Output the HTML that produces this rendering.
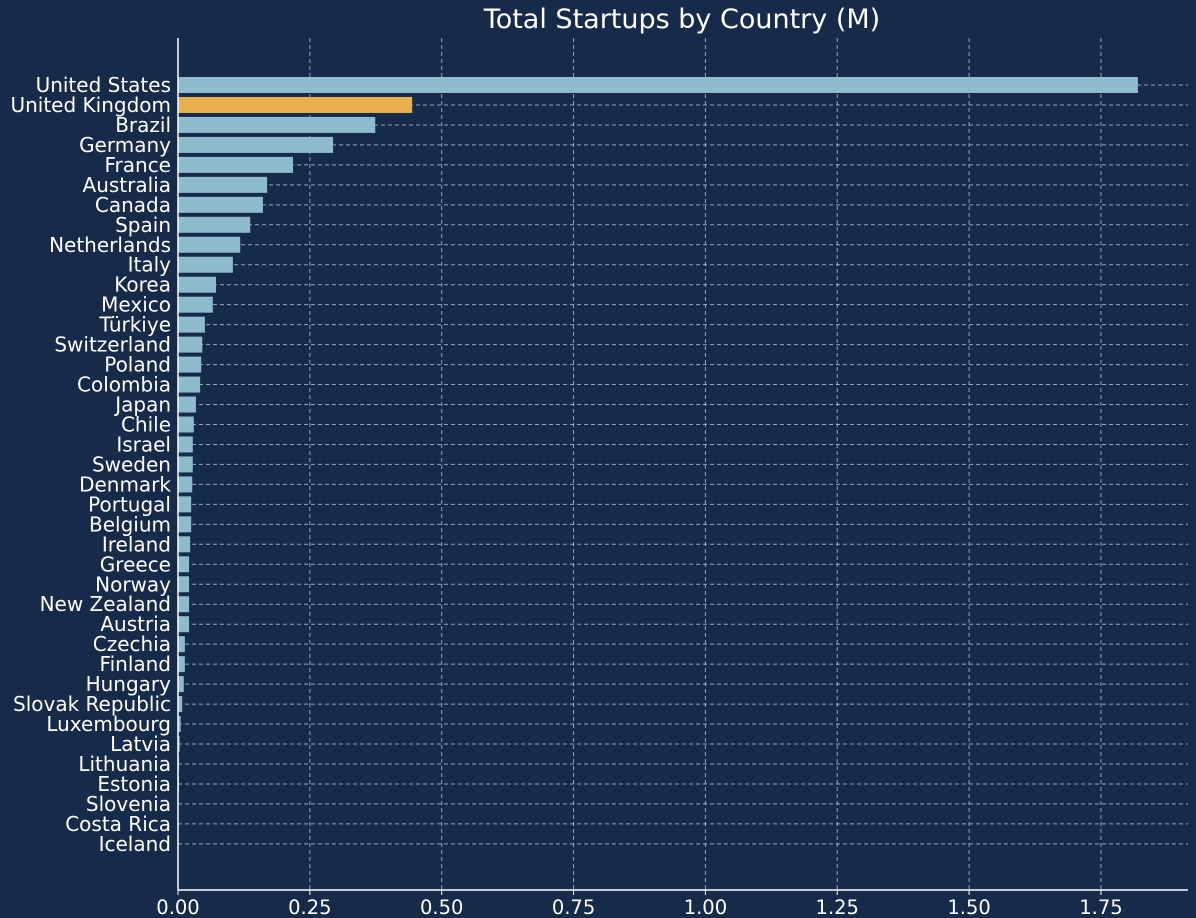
<!DOCTYPE html>
<html><head><meta charset="utf-8">
<style>
html,body{margin:0;padding:0;background:#162a4a;}
svg{display:block;font-family:"DejaVu Sans","Liberation Sans",sans-serif;}
</style></head>
<body>
<svg id="chart" width="1196" height="918" xmlns="http://www.w3.org/2000/svg">
<rect width="1196" height="918" fill="#162a4a"/>
<text x="682" y="28" fill="#ffffff" font-size="27" text-anchor="middle">Total Startups by Country (M)</text>
<g id="grid"></g><g id="bars"></g><g id="ylabels"></g><g id="xticks"></g>
<line x1="178" y1="38" x2="178" y2="890" stroke="#ffffff" stroke-width="1.5"/>
<line x1="178" y1="890" x2="1188" y2="890" stroke="#ffffff" stroke-width="1.5"/>
</svg>
<script>
const countries = ["United States","United Kingdom","Brazil","Germany","France","Australia","Canada","Spain","Netherlands","Italy","Korea","Mexico","Türkiye","Switzerland","Poland","Colombia","Japan","Chile","Israel","Sweden","Denmark","Portugal","Belgium","Ireland","Greece","Norway","New Zealand","Austria","Czechia","Finland","Hungary","Slovak Republic","Luxembourg","Latvia","Lithuania","Estonia","Slovenia","Costa Rica","Iceland"];
const values = [1.820,0.444,0.374,0.294,0.218,0.169,0.161,0.137,0.118,0.104,0.072,0.066,0.051,0.046,0.044,0.042,0.034,0.030,0.028,0.028,0.027,0.025,0.025,0.023,0.021,0.021,0.021,0.021,0.013,0.013,0.011,0.008,0.005,0.003,0.002,0.002,0.001,0.001,0.0005];
const highlight = ["United Kingdom"];
const xTicks = [0,0.25,0.5,0.75,1.0,1.25,1.5,1.75];
const xTickLabels = ["0.00","0.25","0.50","0.75","1.00","1.25","1.50","1.75"];

const NS="http://www.w3.org/2000/svg";
const x0=178, pxPerUnit=527.4, right=1188;
const xs=v=>x0+v*pxPerUnit;
const ys=i=>85+i*19.97;
function mk(tag,attrs,parent){const e=document.createElementNS(NS,tag);for(const k in attrs)e.setAttribute(k,attrs[k]);document.getElementById(parent).appendChild(e);return e;}

xTicks.forEach((t,i)=>{
  if(t>0){const g=mk('line',{x1:xs(t),x2:xs(t),y1:38,y2:890,stroke:'#d0d6de','stroke-width':1,'stroke-dasharray':'4,3',opacity:0.7},'grid');
  
  }
  const tk=mk('line',{x1:xs(t),x2:xs(t),y1:890,y2:895,stroke:'#fff'},'xticks');
  
  
  const tl=mk('text',{x:xs(t),y:914,fill:'#fff','font-size':19.5,'text-anchor':'middle'},'xticks');
  tl.textContent=xTickLabels[i];
  
  
});
countries.forEach((c,i)=>{
  const y=ys(i);
  const g=mk('line',{x1:x0,x2:right,y1:y,y2:y,stroke:'#d0d6de','stroke-width':1,'stroke-dasharray':'4,3',opacity:0.7},'grid');
  
  
  const b=mk('rect',{x:x0,y:y-8,width:Math.max(0,xs(values[i])-x0),height:16,fill:highlight.includes(c)?'#e9b04f':'#8ebccd'},'bars');
  
  
  const t=mk('text',{x:171,y:y+7,fill:'#fff','font-size':20,'text-anchor':'end'},'ylabels');
  t.textContent=c;
  
  
});
</script>
</body></html>
